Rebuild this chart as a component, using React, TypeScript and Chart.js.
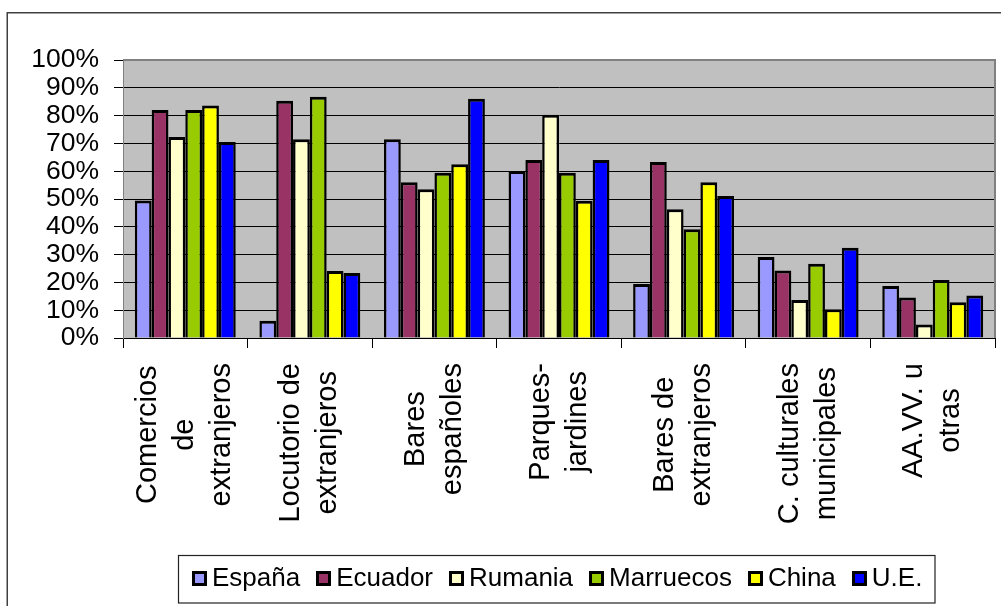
import React, { useEffect, useRef } from "react";
import { Chart, registerables } from "chart.js";

Chart.register(...registerables);

const categories: string[][] = [
  ["Comercios", "de", "extranjeros"],
  ["Locutorio de", "extranjeros"],
  ["Bares", "españoles"],
  ["Parques-", "jardines"],
  ["Bares de", "extranjeros"],
  ["C. culturales", "municipales"],
  ["AA.VV. u", "otras"],
];

const seriesNames = ["España", "Ecuador", "Rumania", "Marruecos", "China", "U.E."];

const espana = [49.5, 6.2, 71.5, 60.1, 19.4, 29.1, 18.7];
const ecuador = [82.0, 85.3, 56.0, 64.0, 63.3, 24.3, 14.6];
const rumania = [72.3, 71.5, 53.5, 80.3, 46.3, 13.7, 4.9];
const marruecos = [82.0, 86.8, 59.4, 59.4, 39.1, 26.7, 20.9];
const china = [83.6, 24.1, 62.5, 49.4, 56.0, 10.3, 12.9];
const ue = [70.5, 23.4, 86.1, 64.0, 51.1, 32.5, 15.3];

const seriesValues = [espana, ecuador, rumania, marruecos, china, ue];
const seriesColors = ["#9999FF", "#993366", "#FFFFCC", "#99CC00", "#FFFF00", "#0000FF"];

const yMin = 0;
const yMax = 100;
const yStep = 10;

const FONT = '"Liberation Sans", Arial, sans-serif';

const decorPlugin = {
  id: "decor",
  beforeDraw(chart: any) {
    const { ctx, chartArea } = chart;
    ctx.save();
    ctx.strokeStyle = "#404040";
    ctx.lineWidth = 1.5;
    ctx.beginPath();
    ctx.moveTo(7.25, 606);
    ctx.lineTo(7.25, 12.75);
    ctx.lineTo(1001, 12.75);
    ctx.stroke();
    ctx.fillStyle = "#C0C0C0";
    ctx.fillRect(chartArea.left, chartArea.top, chartArea.right - chartArea.left, chartArea.bottom - chartArea.top);
    ctx.restore();
  },
  afterDatasetsDraw(chart: any) {
    const { ctx, chartArea } = chart;
    ctx.save();
    ctx.strokeStyle = "#808080";
    ctx.lineWidth = 2;
    ctx.beginPath();
    ctx.moveTo(chartArea.left, chartArea.top);
    ctx.lineTo(chartArea.right, chartArea.top);
    ctx.lineTo(chartArea.right, chartArea.bottom);
    ctx.stroke();
    ctx.restore();
  },
  afterDraw(chart: any) {
    const { ctx } = chart;
    const xScale = chart.scales.x;
    ctx.save();
    ctx.fillStyle = "#000";
    ctx.font = `29px ${FONT}`;
    ctx.textAlign = "center";
    ctx.textBaseline = "middle";
    const lineH = 37;
    const yTop = 363;
    categories.forEach((lines, i) => {
      const cx = xScale.getPixelForValue(i);
      const maxW = Math.max(...lines.map((l) => ctx.measureText(l).width));
      ctx.save();
      ctx.translate(cx, yTop + maxW / 2);
      ctx.rotate(-Math.PI / 2);
      const n = lines.length;
      lines.forEach((l, j) => {
        ctx.fillText(l, 0, (j - (n - 1) / 2) * lineH);
      });
      ctx.restore();
    });

    const boxL = 178.5, boxT = 555.5, boxR = 935, boxB = 603;
    ctx.strokeStyle = "#222";
    ctx.lineWidth = 1.2;
    ctx.strokeRect(boxL, boxT, boxR - boxL, boxB - boxT);
    ctx.font = `26px ${FONT}`;
    ctx.textAlign = "left";
    ctx.textBaseline = "middle";
    const sq = 15, g1 = 5, g2 = 16;
    const widths = chart.data.datasets.map((d: any) => ctx.measureText(d.label).width);
    const total = widths.reduce((a: number, w: number) => a + sq + g1 + w, 0) + g2 * (widths.length - 1);
    let x = Math.round((boxL + boxR) / 2 - total / 2);
    const cy = 578;
    chart.data.datasets.forEach((d: any, i: number) => {
      const bx = Math.round(x), by = Math.round(cy - sq / 2);
      ctx.fillStyle = "#000";
      ctx.fillRect(bx, by, sq, sq);
      ctx.fillStyle = d.backgroundColor;
      ctx.fillRect(bx + 3, by + 3, sq - 6, sq - 6);
      ctx.fillStyle = "#000";
      ctx.fillText(d.label, x + sq + g1, cy + 1);
      x += sq + g1 + widths[i] + g2;
    });
    ctx.restore();
  },
};

export default function App() {
  const ref = useRef<HTMLCanvasElement | null>(null);
  useEffect(() => {
    if (!ref.current) return;
    const chart = new Chart(ref.current, {
      type: "bar",
      data: {
        labels: categories,
        datasets: seriesNames.map((name, i) => ({
          label: name,
          data: seriesValues[i],
          backgroundColor: seriesColors[i],
          borderColor: "#000000",
          borderWidth: { top: 3, left: 2.5, right: 2.5, bottom: 0 },
          borderSkipped: "start",
          inflateAmount: 0,
          categoryPercentage: 0.81,
          barPercentage: 1,
        })),
      },
      options: {
        responsive: false,
        animation: false,
        layout: { padding: { top: 60, right: 6, left: 0, bottom: 0 } },
        plugins: {
          legend: { display: false },
          tooltip: { enabled: false },
          title: { display: false },
        },
        scales: {
          x: {
            afterFit: (scale: any) => {
              scale.height = 268;
            },
            ticks: { display: false },
            grid: {
              display: true,
              drawOnChartArea: false,
              drawTicks: true,
              tickLength: 10,
              color: "#000",
              offset: true,
            },
            border: { display: true, color: "#000", width: 1 },
          },
          y: {
            min: yMin,
            max: yMax,
            afterFit: (scale: any) => {
              scale.width = 123;
            },
            ticks: {
              stepSize: yStep,
              autoSkip: false,
              padding: 15,
              color: "#000",
              font: { family: FONT, size: 26.5, lineHeight: 1 },
              callback: (v: any) => `${v}%`,
            },
            grid: {
              color: (c: any) => (c.tick && c.tick.value === yMax ? "rgba(0,0,0,0)" : "#000"),
              tickColor: "#000",
              tickLength: 9,
              lineWidth: 1,
            },
            border: { display: true, color: "#808080", width: 1 },
          },
        },
      },
      plugins: [decorPlugin],
    });
    return () => chart.destroy();
  }, []);
  return (
    <div style={{ position: "fixed", left: 0, top: 0, width: 1001, height: 606 }}>
      <canvas ref={ref} width={1001} height={606} style={{ display: "block" }} />
    </div>
  );
}
